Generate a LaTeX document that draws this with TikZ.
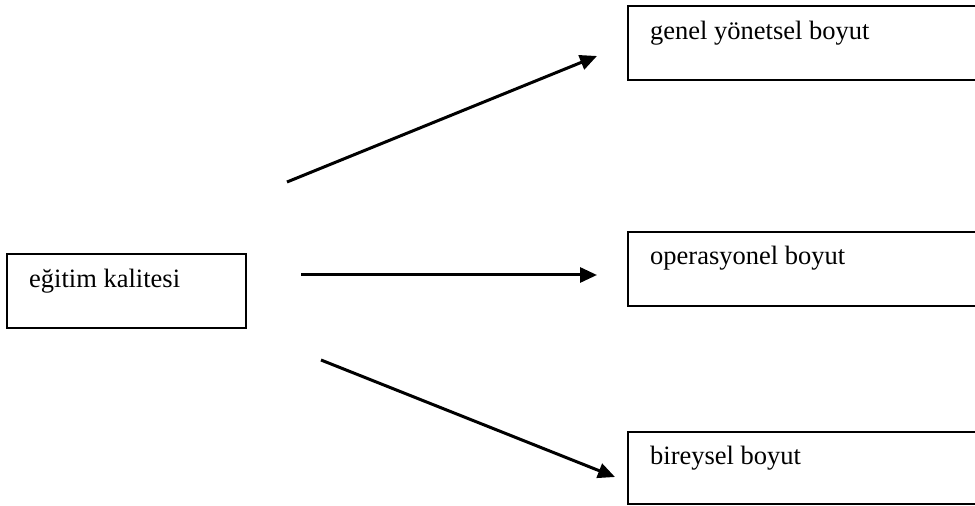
\documentclass[tikz,border=0pt]{standalone}
\usepackage{fontspec}
\setmainfont{Liberation Serif}
\usetikzlibrary{arrows.meta}
\begin{document}
\begin{tikzpicture}[x=1pt,y=1pt,
  box/.style={draw=black, line width=1.8pt},
  lbl/.style={anchor=base west, inner sep=0pt, font=\fontsize{26.5}{30}\selectfont},
  conn/.style={line width=3pt, -{Triangle[length=17pt,width=15pt]}}]
  \useasboundingbox (0,0) rectangle (975,506);
  \clip (0,0) rectangle (975,506);
  % boxes
  \draw[box] (7,252) rectangle (246,178);
  \draw[box] (628,500) rectangle (990,426);
  \draw[box] (628,274) rectangle (990,200);
  \draw[box] (628,74) rectangle (990,2);
  % labels
  \node[lbl] (src) at (29,218) {eğitim kalitesi};
  \node[lbl] (gen) at (650,466) {genel yönetsel boyut};
  \node[lbl] (ops) at (650,241) {operasyonel boyut};
  \node[lbl] (bir) at (650,41) {bireysel boyut};
  % arrow end points
  \coordinate (a1) at (287,324);
  \coordinate (b1) at (597,450);
  \coordinate (a2) at (301,231);
  \coordinate (b2) at (597,231);
  \coordinate (a3) at (321,146);
  \coordinate (b3) at (615,29);
  \draw[conn] (a1) -- (b1);
  \draw[conn] (a2) -- (b2);
  \draw[conn] (a3) -- (b3);
\end{tikzpicture}
\end{document}
